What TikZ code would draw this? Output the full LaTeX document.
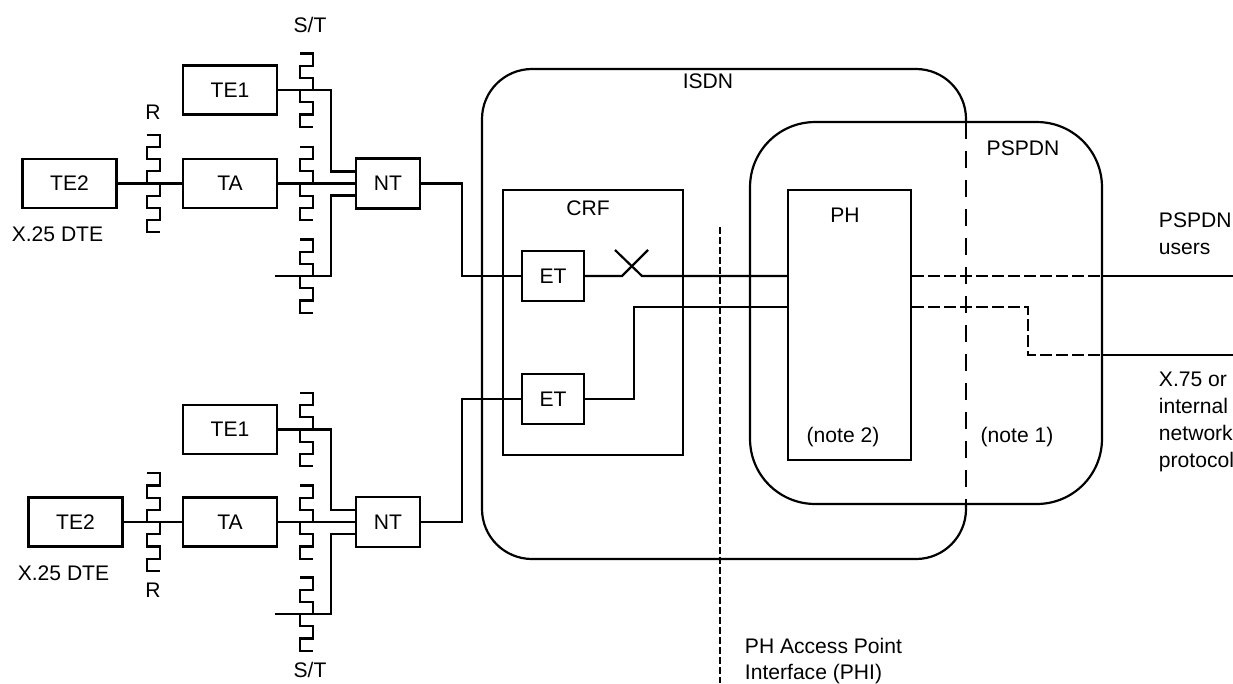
\documentclass[tikz,border=0pt]{standalone}
\usepackage{fontspec}
\setmainfont{Liberation Sans}
\usetikzlibrary{calc, positioning}

\begin{document}
\begin{tikzpicture}[x=0.02cm, y=-0.02cm, line width=1.25pt,
    every node/.style={font=\fontsize{12}{15.3}\selectfont},
    unit/.style={draw, inner sep=0pt, minimum width=1.88cm, minimum height=0.98cm},
    ntbox/.style={draw, inner sep=0pt, minimum width=1.28cm, minimum height=1cm},
    philine/.style={dash pattern=on 0.14cm off 0.06cm},
    longdash/.style={line width=1pt, dash pattern=on 0.34cm off 0.24cm},
    pdash/.style={dash pattern=on 0.24cm off 0.08cm}]
    \useasboundingbox (0,0) rectangle (1233,683);

    % 用户侧 (上)
    \node[unit] (te2a) at (69.5,183.5) {TE2};
    \node[unit] (taa) at (230,183.5) {TA};
    \node[unit] (te1a) at (230,90) {TE1};
    \node[ntbox] (nta) at (388,183.5) {NT};
    \node (dtea) at (57.5,234) {X.25 DTE};
    \node (ra) at (153,112) {R};
    \node (sta) at (310,25) {S/T};

    % 用户侧 (下)
    \node[unit] (te2b) at (75.5,522) {TE2};
    \node[unit] (tab) at (230,522) {TA};
    \node[unit] (te1b) at (230,429.5) {TE1};
    \node[ntbox] (ntb) at (388,522) {NT};
    \node (dteb) at (63.5,573) {X.25 DTE};
    \node (rb) at (153,590) {R};
    \node (stb) at (310,670) {S/T};

    % 接口 R 和 S/T
    \foreach \bx/\by/\bn in {147/183.5/4, 147/522/4, 300/90/3, 300/183.5/3,
                            300/276/3, 300/429.5/3, 300/522/3, 300/614/3}
        \draw (\bx,\by-\bn*12.2) foreach \j in {1,...,\bn}
            { -- ++(13,0) -- ++(0,12.2) -- ++(-13,0) -- ++(0,12.2) } -- ++(13,0);

    % 连接线 (上)
    \coordinate (stuba) at (275,276);
    \draw (te2a) -- (taa);
    \draw (taa) -- (nta);
    \draw (te1a.east) -| ($(nta.west)+(-24,-12)$) -- ($(nta.west)+(0,-12)$);
    \draw (stuba) -| ($(nta.west)+(-24,12)$) -- ($(nta.west)+(0,12)$);

    % 连接线 (下)
    \coordinate (stubb) at (275,614);
    \draw (te2b) -- (tab);
    \draw (tab) -- (ntb);
    \draw (te1b.east) -| ($(ntb.west)+(-24,-12)$) -- ($(ntb.west)+(0,-12)$);
    \draw (stubb) -| ($(ntb.west)+(-24,12)$) -- ($(ntb.west)+(0,12)$);

    % ISDN 和 PSPDN
    \draw[rounded corners=1cm] (966,122) -- (966,69) -- (482,69) -- (482,559)
        -- (966,559) -- (966,504);
    \draw[longdash] (966,122) -- (966,504);
    \node (isdn) at (708,81) {ISDN};
    \node[draw, rounded corners=1.3cm, minimum width=7.04cm, minimum height=7.64cm]
        (pspdn) at (926,313) {};
    \node (pspdnlbl) at (1023,148) {PSPDN};

    % CRF, ET, PH
    \node[draw, minimum width=3.6cm, minimum height=5.3cm] (crf) at (593,322.5) {};
    \node (crflbl) at (588,208) {CRF};
    \node[ntbox, minimum width=1.24cm] (et1) at (553,276) {ET};
    \node[ntbox, minimum width=1.24cm] (et2) at (553,399) {ET};
    \node[draw, minimum width=2.46cm, minimum height=5.4cm] (ph) at (849.5,325) {};
    \node (phlbl) at (845,215) {PH};
    \node (note2) at (843,437) {(note 2)};
    \node (note1) at (1017,437) {(note 1)};

    % NT 到 ET
    \draw (nta.east) -- ++(41,0) |- (et1.west);
    \draw (ntb.east) -- ++(41,0) |- (et2.west);

    % ET 到 PH
    \coordinate (sw1) at (622,276);
    \coordinate (sw2) at (642,276);
    \draw (et1.east) -- (sw1) -- ++(26,-26);
    \draw (sw2) ++(-27,-26) -- (sw2) -- (sw2 -| ph.west);
    \draw (et2.east) -- ++(49,0) |- ($(ph.west)+(0,-18)$);

    % PH 到外部
    \coordinate (usr) at (1233,276);
    \coordinate (x75) at (1233,355);
    \draw[pdash] (ph.east |- usr) -- (pspdn.east |- usr);
    \draw (pspdn.east |- usr) -- (usr);
    \draw[pdash] ($(ph.east)+(0,-18)$) -| (1028,355) -- (pspdn.east |- x75);
    \draw (pspdn.east |- x75) -- (x75);
    \node[anchor=west, align=left] (usrlbl) at (1152,234) {PSPDN\\users};
    \node[anchor=west, align=left] (x75lbl) at (1152,422) {X.75 or\\internal\\network\\protocol};

    % PHI
    \coordinate (phitop) at (720,227);
    \coordinate (phibot) at (720,683);
    \draw[philine] (phitop) -- (phibot);
    \node[anchor=west, align=left] (philbl) at (738,661) {PH Access Point\\Interface (PHI)};
\end{tikzpicture}
\end{document}
